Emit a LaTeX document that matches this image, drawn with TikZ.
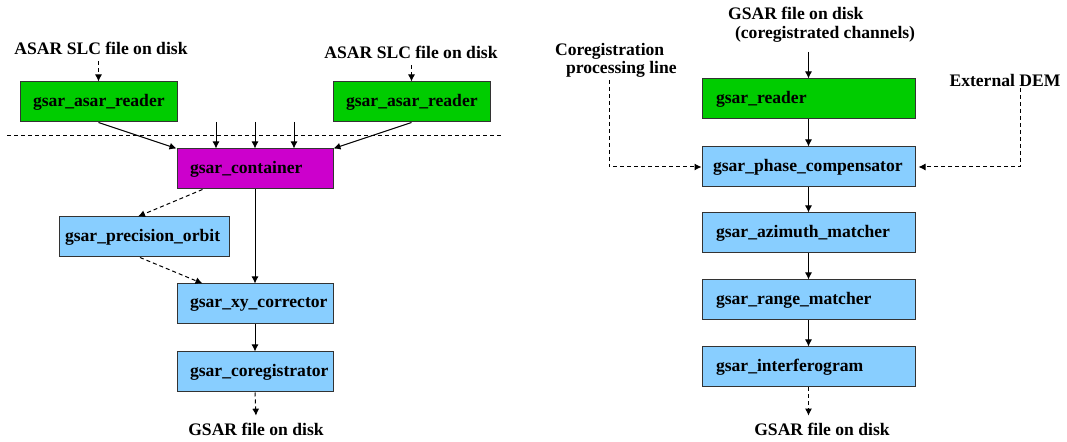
\documentclass[tikz,border=0pt]{standalone}
\usepackage{fontspec}
\setmainfont{Liberation Serif}
\usetikzlibrary{arrows.meta,calc}
\definecolor{rgreen}{RGB}{0,204,0}
\definecolor{rmag}{RGB}{204,0,204}
\definecolor{rblue}{RGB}{136,206,255}
\begin{document}
\begin{tikzpicture}[x=0.5pt,y=-0.5pt,
  every node/.style={font=\fontsize{8.8}{10}\selectfont\bfseries},
  pbox/.style={draw=black!80,line width=0.5pt,rectangle,minimum height=20pt,inner ysep=0pt,align=left},
  lblue/.style={pbox,fill=rblue},
  lgreen/.style={pbox,fill=rgreen},
  lmag/.style={pbox,fill=rmag},
  lft/.style={inner xsep=6.5pt,text width=65.5pt},
  rgt/.style={inner xsep=7pt,text width=92.5pt},
  flow/.style={line width=0.5pt,-{Latex[length=3.5pt,width=3.5pt]}},
  dflow/.style={flow,dash pattern=on 2pt off 1.5pt},
  sep/.style={line width=0.5pt,dash pattern=on 2pt off 1.5pt}
]
\useasboundingbox (0,0) rectangle (1067,442);
% ---------------- left ----------------
\node (lbl1) at (101,48) {ASAR SLC file on disk};
\node (lbl2) at (411,52) {ASAR SLC file on disk};
\node[lgreen,lft] (r1) at (98.5,102) {gsar\_asar\_reader};
\node[lgreen,lft] (r2) at (411.5,102) {gsar\_asar\_reader};
\node[lmag,inner xsep=6.5pt,text width=65pt] (cont) at (255,169) {gsar\_container};
\node[lblue,inner xsep=3pt,text width=79pt] (orbit) at (144,237) {gsar\_precision\_orbit};
\node[lblue,inner xsep=6.5pt,text width=65pt] (xy) at (255,304) {gsar\_xy\_corrector};
\node[lblue,inner xsep=6.5pt,text width=65pt] (coreg) at (255,372) {gsar\_coregistrator};
\node (out1) at (256,429) {GSAR file on disk};
\coordinate (s1) at (7,136);
\coordinate (s2) at (503,136);
\coordinate (i1) at (216,122);
\coordinate (i2) at (255,122);
\coordinate (i3) at (294,122);
\draw[sep] (s1) -- (s2);
\draw[dflow] (r1.north |- lbl1.south) -- (r1.north);
\draw[dflow] (r2.north |- lbl2.south) -- (r2.north);
\draw[flow] (r1.south) -- (cont.north west);
\draw[flow] (r2.south) -- (cont.north east);
\draw[flow] (i1) -- (i1 |- cont.north);
\draw[flow] (i2) -- (i2 |- cont.north);
\draw[flow] (i3) -- (i3 |- cont.north);
\draw[dflow] ($(cont.south west)+(26,0)$) -- ($(orbit.north)+(-6,0)$);
\draw[flow] (cont.south) -- (xy.north);
\draw[dflow] ($(orbit.south)+(-4,0)$) -- ($(xy.north west)+(26,0)$);
\draw[flow] (xy.south) -- (coreg.north);
\draw[dflow] (coreg.south) -- (out1.north);
% ---------------- right ----------------
\node[anchor=west,align=left,font=\fontsize{8.8}{9.5}\selectfont\bfseries] (top) at (721,25) {GSAR file on disk\\\hspace{3.5pt}(coregistrated channels)};
\node[anchor=west,align=left,font=\fontsize{8.8}{7.5}\selectfont\bfseries] (cpl) at (548,60.5) {Coregistration\\\hspace{5.5pt}processing line};
\node (dem) at (1005,80) {External DEM};
\node[lgreen,rgt] (rd) at (808.5,99) {gsar\_reader};
\node[lblue,inner xsep=5.5pt,text width=95.5pt] (ph) at (808.5,167) {gsar\_phase\_compensator};
\node[lblue,rgt] (az) at (808.5,233) {gsar\_azimuth\_matcher};
\node[lblue,rgt] (rm) at (808.5,300) {gsar\_range\_matcher};
\node[lblue,rgt] (ig) at (808.5,367) {gsar\_interferogram};
\node (out2) at (822,429) {GSAR file on disk};
\coordinate (tin) at (808.5,52);
\coordinate (c1) at (609,80);
\coordinate (c2) at (1020,88);
\draw[flow] (tin) -- (rd.north);
\draw[flow] (rd.south) -- (ph.north);
\draw[flow] (ph.south) -- (az.north);
\draw[flow] (az.south) -- (rm.north);
\draw[flow] (rm.south) -- (ig.north);
\draw[dflow] (ig.south) -- (ig.south |- out2.north);
\draw[dflow] (c1) |- (ph.west);
\draw[dflow] (c2) |- ($(ph.east)+(3,0)$);
\end{tikzpicture}
\end{document}
